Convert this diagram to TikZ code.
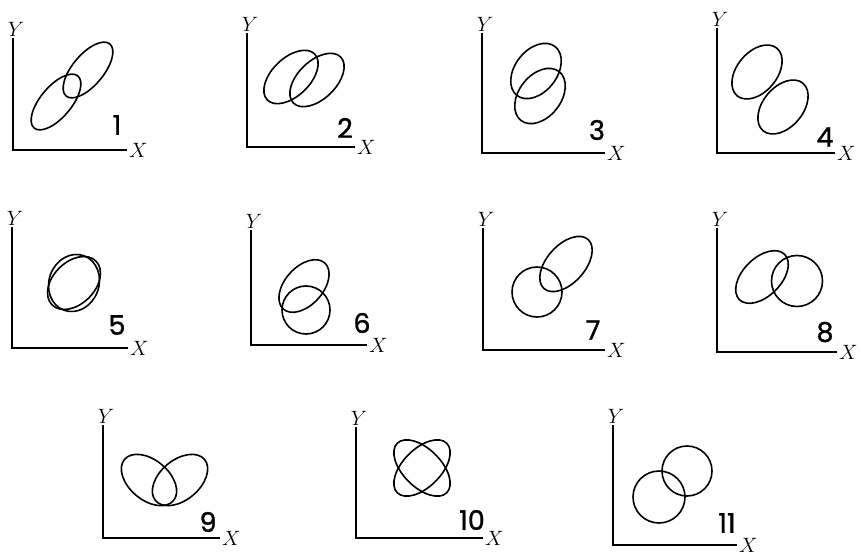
\documentclass[tikz,border=0pt]{standalone}
\usepackage{fontspec}
\newfontfamily\numfont[FakeBold=1.2]{Poppins}
\usepackage{tikz}
\usetikzlibrary{positioning}

\tikzset{
  axes/.style={line width=1.7pt, line cap=butt},
  oval/.style={line width=1.6pt},
  num/.style={font=\numfont\fontsize{27}{27}\selectfont, inner sep=0pt},
  xlab/.style={anchor=west, inner sep=2pt, font=\fontsize{22}{22}\selectfont},
  ylab/.style={anchor=south, inner sep=1pt, xshift=3pt, font=\fontsize{22}{22}\selectfont}
}

\begin{document}
\begin{tikzpicture}[x=1pt, y=1pt]
\useasboundingbox (0,0) rectangle (861,555);
% row 1, panel 1: two thin ellipses along the diagonal
\begin{scope}[shift={(13,405)}]
\coordinate (o1) at (0,0); \coordinate (x1) at (114,0); \coordinate (y1) at (0,112);
\draw[axes] (y1) -- (o1) -- (x1);
\node[ylab] (ly1) at (y1) {$Y$};
\node[xlab] (lx1) at (x1) {$X$};
\draw[oval] (43,48) circle[x radius=34pt, y radius=15.5pt, rotate=50];
\draw[oval] (75,80) circle[x radius=34pt, y radius=15.5pt, rotate=50];
\node[num] (n1) at (104,25) {1};
\end{scope}
% panel 2: shifted sideways
\begin{scope}[shift={(247,408)}]
\coordinate (o2) at (0,0); \coordinate (x2) at (108,0); \coordinate (y2) at (0,114);
\draw[axes] (y2) -- (o2) -- (x2);
\node[ylab] (ly2) at (y2) {$Y$};
\node[xlab] (lx2) at (x2) {$X$};
\draw[oval] (44,70) circle[x radius=33pt, y radius=19pt, rotate=44];
\draw[oval] (70,67) circle[x radius=33pt, y radius=19pt, rotate=44];
\node[num] (n2) at (98,19) {2};
\end{scope}
% panel 3: shifted up
\begin{scope}[shift={(482,402)}]
\coordinate (o3) at (0,0); \coordinate (x3) at (123,0); \coordinate (y3) at (0,120);
\draw[axes] (y3) -- (o3) -- (x3);
\node[ylab] (ly3) at (y3) {$Y$};
\node[xlab] (lx3) at (x3) {$X$};
\draw[oval] (54,82) circle[x radius=31pt, y radius=21pt, rotate=52];
\draw[oval] (58,57) circle[x radius=31pt, y radius=21pt, rotate=52];
\node[num] (n3) at (115,23) {3};
\end{scope}
% panel 4: apart, across the diagonal
\begin{scope}[shift={(717,402)}]
\coordinate (o4) at (0,0); \coordinate (x4) at (118,0); \coordinate (y4) at (0,125);
\draw[axes] (y4) -- (o4) -- (x4);
\node[ylab] (ly4) at (y4) {$Y$};
\node[xlab] (lx4) at (x4) {$X$};
\draw[oval] (40,81) circle[x radius=31pt, y radius=20pt, rotate=50];
\draw[oval] (66,46) circle[x radius=31pt, y radius=20pt, rotate=50];
\node[num] (n4) at (108,16) {4};
\end{scope}
% row 2, panel 5: same centre, turned
\begin{scope}[shift={(12,207)}]
\coordinate (o5) at (0,0); \coordinate (x5) at (116,0); \coordinate (y5) at (0,121);
\draw[axes] (y5) -- (o5) -- (x5);
\node[ylab] (ly5) at (y5) {$Y$};
\node[xlab] (lx5) at (x5) {$X$};
\draw[oval] (62,65) circle[x radius=31pt, y radius=21pt, rotate=45];
\draw[oval] (62,65) circle[x radius=29pt, y radius=25pt, rotate=70];
\node[num] (n5) at (105,23) {5};
\end{scope}
% panel 6: ellipse over circle
\begin{scope}[shift={(251,210)}]
\coordinate (o6) at (0,0); \coordinate (x6) at (116,0); \coordinate (y6) at (0,115);
\draw[axes] (y6) -- (o6) -- (x6);
\node[ylab] (ly6) at (y6) {$Y$};
\node[xlab] (lx6) at (x6) {$X$};
\draw[oval] (53,59) circle[x radius=31pt, y radius=19pt, rotate=48];
\draw[oval] (55,35) circle[radius=24pt];
\node[num] (n6) at (111,22) {6};
\end{scope}
% panel 7: circle below, ellipse up the diagonal
\begin{scope}[shift={(483,205)}]
\coordinate (o7) at (0,0); \coordinate (x7) at (122,0); \coordinate (y7) at (0,122);
\draw[axes] (y7) -- (o7) -- (x7);
\node[ylab] (ly7) at (y7) {$Y$};
\node[xlab] (lx7) at (x7) {$X$};
\draw[oval] (54,58) circle[radius=25pt];
\draw[oval] (83,86) circle[x radius=33pt, y radius=19pt, rotate=48];
\node[num] (n7) at (110,20) {7};
\end{scope}
% panel 8: ellipse left, circle right
\begin{scope}[shift={(717,203)}]
\coordinate (o8) at (0,0); \coordinate (x8) at (120,0); \coordinate (y8) at (0,124);
\draw[axes] (y8) -- (o8) -- (x8);
\node[ylab] (ly8) at (y8) {$Y$};
\node[xlab] (lx8) at (x8) {$X$};
\draw[oval] (45,75) circle[x radius=32pt, y radius=19pt, rotate=45];
\draw[oval] (80,71) circle[radius=25.5pt];
\node[num] (n8) at (108,20) {8};
\end{scope}
% row 3, panel 9: mirrored pair
\begin{scope}[shift={(103,17)}]
\coordinate (o9) at (0,0); \coordinate (x9) at (117,0); \coordinate (y9) at (0,113);
\draw[axes] (y9) -- (o9) -- (x9);
\node[ylab] (ly9) at (y9) {$Y$};
\node[xlab] (lx9) at (x9) {$X$};
\draw[oval] (46,58) circle[x radius=32pt, y radius=20pt, rotate=-40];
\draw[oval] (77,58) circle[x radius=32pt, y radius=20pt, rotate=40];
\node[num] (n9) at (105,16) {9};
\end{scope}
% panel 10: crossed at right angles
\begin{scope}[shift={(356,17)}]
\coordinate (o10) at (0,0); \coordinate (x10) at (127,0); \coordinate (y10) at (0,111);
\draw[axes] (y10) -- (o10) -- (x10);
\node[ylab] (ly10) at (y10) {$Y$};
\node[xlab] (lx10) at (x10) {$X$};
\draw[oval] (66,70) circle[x radius=35pt, y radius=19pt, rotate=45];
\draw[oval] (66,70) circle[x radius=35pt, y radius=19pt, rotate=-45];
\node[num] (n10) at (116,18) {10};
\end{scope}
% panel 11: two circles
\begin{scope}[shift={(613,10)}]
\coordinate (o11) at (0,0); \coordinate (x11) at (124,0); \coordinate (y11) at (0,120);
\draw[axes] (y11) -- (o11) -- (x11);
\node[ylab] (ly11) at (y11) {$Y$};
\node[xlab] (lx11) at (x11) {$X$};
\draw[oval] (46,48) circle[radius=26pt];
\draw[oval] (74,74) circle[radius=25pt];
\node[num] (n11) at (114,22) {11};
\end{scope}
\end{tikzpicture}
\end{document}
